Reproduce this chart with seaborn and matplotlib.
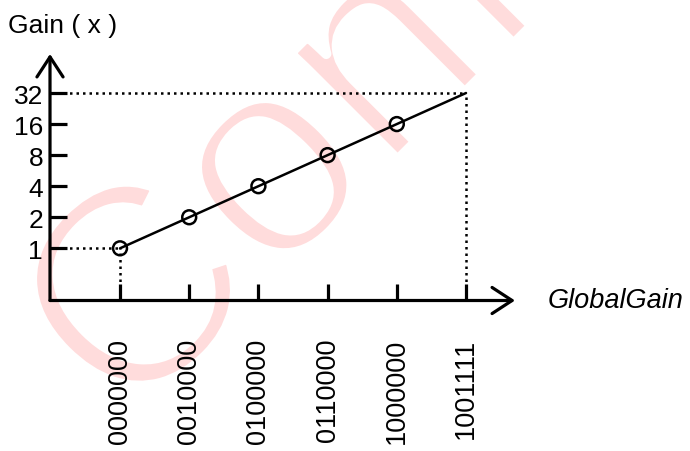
import matplotlib
matplotlib.use("Agg")
import matplotlib.pyplot as plt
import seaborn as sns
from matplotlib import font_manager as fm
from matplotlib.textpath import TextPath
from matplotlib.patches import PathPatch
from matplotlib.transforms import Affine2D
from matplotlib.ticker import NullLocator

# chart data
codes = ['0000000', '0010000', '0100000', '0110000', '1000000', '1001111']
gain = [1, 2, 4, 8, 16, 32]
n_measured = 5          # points drawn with a circle marker
y_label = 'Gain ( x )'
x_label = 'GlobalGain'
watermark = 'Confidential'

sns.set_style('white')
plt.rcParams['font.family'] = ['Liberation Sans', 'DejaVu Sans']
plt.rcParams.update({'text.color': 'black', 'xtick.color': 'black',
                     'ytick.color': 'black', 'axes.labelcolor': 'black'})

pos = list(range(len(codes)))

fig = plt.figure(figsize=(6.9, 4.52), dpi=100)
ax = fig.add_axes([50 / 690, (452 - 301.5) / 452, 465 / 690, (301.5 - 55) / 452])
ax.patch.set_visible(False)

# watermark: regular sans, strokes slimmed down with a white outline
pink = '#ffdcdc'
tp = TextPath((0, 0), watermark, size=285, prop=fm.FontProperties(family='Liberation Sans'))
wm = PathPatch(tp, facecolor=pink, edgecolor='white', lw=7,
               joinstyle='round', capstyle='round', zorder=-5,
               transform=Affine2D().rotate_deg(45).translate(126, 452 - 432))
fig.add_artist(wm)

# guide lines
dot = (0, (1, 1.6))
xl = (-1.0116, 5.708)
yl = (2 ** -1.68, 2 ** 6.256)
ax.plot([xl[0], pos[0]], [gain[0], gain[0]], color='black', lw=1.8, ls=dot)
ax.plot([pos[0], pos[0]], [yl[0], gain[0]], color='black', lw=1.8, ls=dot)
ax.plot([xl[0], pos[-1]], [gain[-1], gain[-1]], color='black', lw=1.8, ls=dot)
ax.plot([pos[-1], pos[-1]], [yl[0], gain[-1]], color='black', lw=1.8, ls=dot)

sns.lineplot(x=pos, y=gain, ax=ax, color='black', lw=1.8)
sns.scatterplot(x=pos[:n_measured], y=gain[:n_measured], ax=ax, s=100,
                facecolor='none', edgecolor='black', linewidth=1.8, zorder=4)

ax.set_yscale('log', base=2)
ax.set_xlim(*xl)
ax.set_ylim(*yl)
ax.set_yticks(gain, [str(g) for g in gain])
ax.yaxis.set_minor_locator(NullLocator())
ax.set_xticks(pos, codes, rotation=90)
ax.tick_params(axis='y', direction='in', length=12.2, width=2.3, pad=5,
               labelsize=19, left=True)
ax.tick_params(axis='x', direction='in', length=12.2, width=2.3, pad=27,
               labelsize=19.5, bottom=True)
for lab in ax.get_xticklabels():
    lab.set_va('top')
ax.set_xlabel('')
ax.set_ylabel('')
for s in ax.spines.values():
    s.set_visible(False)

arrow = dict(arrowstyle='->, head_length=0.72, head_width=0.47', lw=2.3,
             color='black', shrinkA=0, shrinkB=0, mutation_scale=20)
ax.annotate('', xy=(0, 1), xytext=(0, 0), xycoords='axes fraction', arrowprops=arrow)
ax.annotate('', xy=(1, 0), xytext=(0, 0), xycoords='axes fraction', arrowprops=arrow)

fig.text(8 / 690, 1 - 33 / 452, y_label, fontsize=19, va='baseline', ha='left')
fig.text(548 / 690, 1 - 308 / 452, x_label, fontsize=19.5, style='italic',
         va='baseline', ha='left')

fig.savefig('out.png', dpi=100)
